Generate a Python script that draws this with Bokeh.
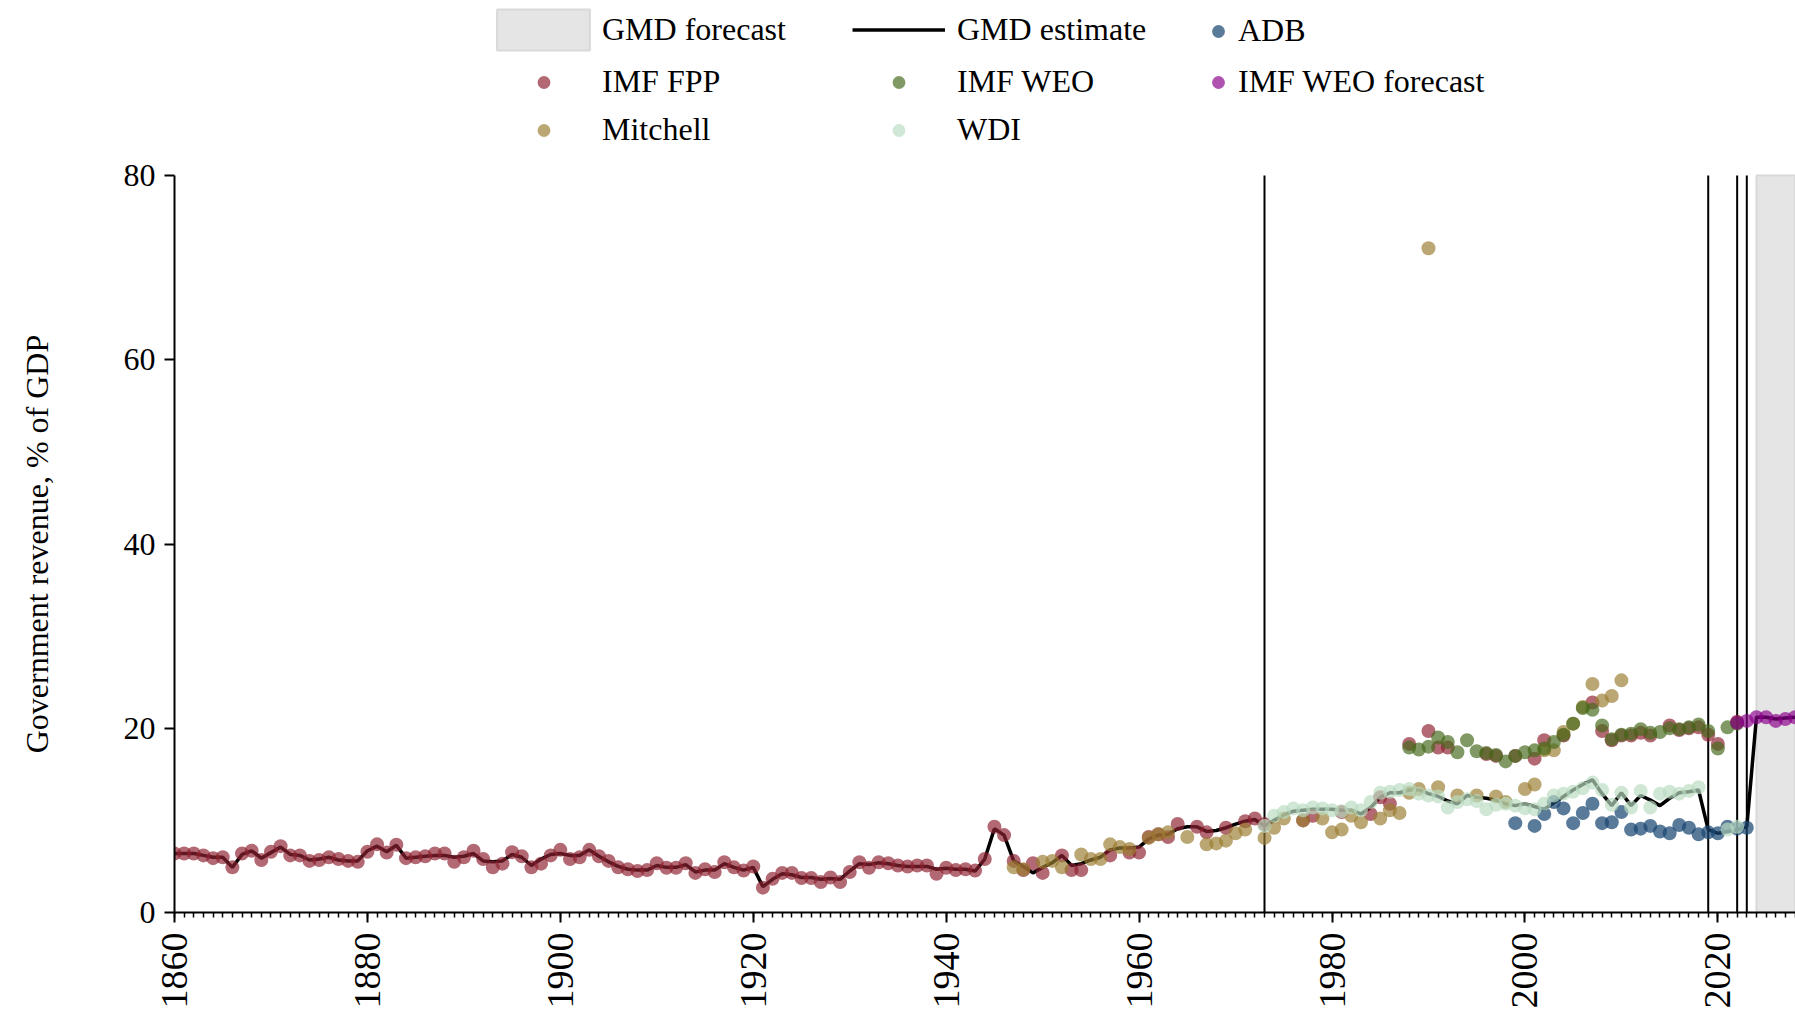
import math
from bokeh.plotting import figure
from bokeh.layouts import row
from bokeh.models import (Range1d, SingleIntervalTicker, FixedTicker,
                          Legend, LegendItem)
from bokeh.core.properties import value
from bokeh.embed import file_html
from bokeh.resources import INLINE

# ---------------- data ----------------
gmd_years = list(range(1860, 2029))
gmd_vals = [
    6.4, 6.4, 6.4, 6.2, 6.0, 6.0, 4.9, 6.3, 6.7, 5.9,
    6.5, 7.1, 6.3, 6.2, 5.7, 5.8, 6.0, 5.7, 5.6, 5.6,
    6.7, 7.2, 6.6, 7.3, 5.9, 6.0, 6.1, 6.2, 6.2, 6.0,
    6.1, 6.4, 5.6, 5.5, 5.6, 6.3, 6.0, 5.1, 5.8, 6.3,
    6.4, 6.2, 6.2, 6.8, 6.1, 5.5, 5.0, 4.7, 4.6, 4.6,
    5.1, 4.9, 4.9, 5.2, 4.4, 4.6, 4.6, 5.3, 4.9, 4.6,
    4.9, 2.8, 3.6, 4.2, 4.1, 3.8, 3.8, 3.6, 3.7, 3.6,
    4.5, 5.3, 5.2, 5.4, 5.3, 5.1, 5.0, 5.0, 5.0, 4.7,
    4.8, 4.7, 4.7, 4.5, 5.8, 9.1, 8.4, 5.6, 5.0, 4.3,
    4.9, 5.4, 6.2, 5.1, 5.3, 5.7, 6.0, 6.8, 7.0, 7.0,
    7.1, 8.0, 8.4, 8.5, 9.1, 9.3, 9.3, 8.8, 8.9, 9.2,
    9.6, 9.9, 10.1, 9.4, 10.0, 10.6, 11.0, 11.1, 11.2, 11.2,
    11.2, 11.1, 11.1, 10.7, 11.4, 12.5, 13.0, 13.0, 13.3, 13.3,
    12.9, 12.6, 12.1, 11.8, 12.7, 12.5, 12.4, 12.2, 11.8, 11.6,
    11.8, 11.5, 11.2, 11.9, 12.6, 13.3, 13.9, 14.4, 12.9, 11.6,
    13.0, 11.6, 12.7, 12.2, 11.6, 12.4, 13.0, 13.1, 13.3, 9.0,
    8.6, 8.8, 9.0, 9.3, 21.2, 21.2, 21.0, 21.1, 21.2,
]

fpp_years = list(range(1860, 1947)) + [
    1947, 1948, 1949, 1950, 1952, 1953, 1954, 1957, 1959, 1960,
    1961, 1962, 1963, 1964, 1966, 1967, 1969, 1971, 1972, 1973,
    1977, 1978, 1981, 1984, 1985, 1986, 1988, 1990, 1991, 1992,
    1996, 1997, 1999, 2001, 2002, 2004, 2007, 2008, 2009, 2010,
    2011, 2012, 2013, 2015, 2016, 2017, 2018, 2019, 2020, 2022,
]
fpp_vals = [
    6.4, 6.4, 6.4, 6.2, 5.9, 6.0, 4.9, 6.4, 6.7, 5.7,
    6.6, 7.2, 6.2, 6.2, 5.6, 5.7, 6.0, 5.8, 5.6, 5.5,
    6.6, 7.4, 6.5, 7.35, 5.9, 6.0, 6.1, 6.4, 6.4, 5.5,
    6.0, 6.7, 5.8, 4.9, 5.3, 6.55, 6.1, 4.9, 5.3, 6.2,
    6.8, 5.8, 6.0, 6.8, 6.1, 5.6, 4.9, 4.7, 4.5, 4.6,
    5.35, 4.85, 4.85, 5.35, 4.3, 4.7, 4.4, 5.45, 4.9, 4.55,
    5.0, 2.7, 3.65, 4.3, 4.3, 3.75, 3.75, 3.3, 3.8, 3.3,
    4.4, 5.45, 4.85, 5.45, 5.35, 5.1, 5.0, 5.1, 5.1, 4.2,
    4.85, 4.6, 4.7, 4.55, 5.8, 9.3, 8.4,
    5.6, 4.6, 5.35, 4.3, 6.2, 4.6, 4.6, 6.2, 6.5, 6.5,
    8.2, 8.5, 8.2, 9.6, 9.3, 8.7, 9.2, 9.9, 10.2, 9.6,
    10.0, 10.5, 10.9, 10.7, 12.5, 11.8, 18.3, 19.7, 17.9, 17.9,
    17.2, 17.0, 17.0, 16.7, 18.7, 19.2, 22.8, 19.7, 18.7, 19.2,
    19.2, 19.5, 19.2, 20.3, 19.8, 20.0, 20.1, 19.3, 18.3, 20.7,
]

mitchell_years = [
    1947, 1948, 1950, 1951, 1952, 1954, 1955, 1956, 1957, 1958,
    1959, 1961, 1962, 1963, 1965, 1967, 1968, 1969, 1970, 1971,
    1973, 1974, 1975, 1977, 1979, 1980, 1981, 1982, 1983, 1985,
    1986, 1987, 1988, 1989, 1990, 1991, 1993, 1995, 1997, 1998,
    2000, 2001, 2002, 2003, 2004, 2005, 2006, 2007, 2008, 2009,
    2010,
]
mitchell_vals = [
    4.9, 4.7, 5.5, 5.6, 4.9, 6.3, 5.8, 5.8, 7.4, 7.1,
    6.9, 8.1, 8.5, 8.7, 8.2, 7.4, 7.5, 7.8, 8.6, 9.0,
    8.1, 9.2, 10.2, 10.0, 10.2, 8.7, 9.0, 10.5, 9.8, 10.2,
    11.1, 10.8, 13.0, 13.4, 72.1, 13.6, 12.7, 12.7, 12.6, 12.0,
    13.4, 13.9, 17.6, 17.6, 19.6, 20.5, 22.3, 24.8, 23.0, 23.5,
    25.2,
]

weo_years = list(range(1988, 2023))
weo_vals = [
    17.9, 17.7, 18.0, 19.0, 18.5, 17.4, 18.7, 17.5, 17.3, 17.1,
    16.4, 17.0, 17.4, 17.6, 17.8, 18.5, 19.3, 20.5, 22.2, 22.0,
    20.3, 18.8, 19.3, 19.4, 19.9, 19.5, 19.6, 20.0, 19.9, 20.1,
    20.4, 19.7, 17.8, 20.1, 20.5,
]

weo_fc_years = [2022, 2023, 2024, 2025, 2026, 2027, 2028]
weo_fc_vals = [20.6, 20.8, 21.2, 21.2, 20.8, 21.0, 21.2]

wdi_years = list(range(1973, 2019)) + [2021, 2022]
wdi_vals = [
    9.4, 10.5, 10.9, 11.3, 11.1, 11.4, 11.3, 11.1, 11.0, 11.4,
    11.1, 12.0, 13.0, 13.1, 13.3, 13.4, 12.9, 12.7, 12.6, 11.4,
    12.0, 12.3, 12.1, 11.2, 11.7, 11.8, 11.6, 11.3, 11.2, 11.8,
    12.7, 12.9, 13.1, 13.5, 14.1, 13.3, 11.7, 13.0, 11.4, 13.2,
    11.4, 12.9, 13.1, 12.9, 13.2, 13.6, 9.0, 9.3,
]

adb_years = [
    1999, 2001, 2002, 2003, 2004, 2005, 2006, 2007, 2008, 2009,
    2010, 2011, 2012, 2013, 2014, 2015, 2016, 2017, 2018, 2019,
    2020, 2021, 2022, 2023,
]
adb_vals = [
    9.7, 9.4, 10.7, 12.0, 11.3, 9.7, 10.8, 11.8, 9.7, 9.8,
    10.9, 9.0, 9.1, 9.4, 8.8, 8.6, 9.5, 9.2, 8.5, 8.7,
    8.6, 9.3, 9.1, 9.2,
]

break_years = [1973, 2019, 2022, 2023]
forecast_start, forecast_end = 2024, 2028
x_ticks_step = 20
y_ticks = [0, 20, 40, 60, 80]
y_label = "Government revenue, % of GDP"

# ---------------- layout constants (pixels) ----------------
FONT = "Liberation Serif"
W, H = 1795, 1012
LABEL_W = 70                        # narrow strip holding the y-axis title
LABEL_X = 36                        # centre of the y-axis title in that strip
AXIS_X, BOTTOM_Y = 174, 912         # y-axis position / x-axis position
Y_TOP_PX = 175                      # pixel row of the y=80 tick
px_per_unit = (BOTTOM_Y - Y_TOP_PX) / y_ticks[-1]
y_max = BOTTOM_Y / px_per_unit      # frame reaches the top of the canvas
px_per_year = 9.646
x_max = 1860 + (W - AXIS_X) / px_per_year

y_range = Range1d(0, y_max)

# ---------------- y-axis title strip ----------------
lab = figure(width=LABEL_W, height=H, x_range=Range1d(0, LABEL_W),
             y_range=y_range, x_axis_type=None, y_axis_type=None,
             output_backend="svg", toolbar_location=None, min_border=0,
             min_border_bottom=H - BOTTOM_Y)
lab.outline_line_color = None
lab.xgrid.visible = False
lab.ygrid.visible = False
lab.text(x=[LABEL_X], y=[(y_ticks[0] + y_ticks[-1]) / 2], text=[y_label],
         angle=math.pi / 2, text_font=value(FONT), text_font_size="32px",
         text_align="center", text_baseline="middle", text_color="black")

# ---------------- main figure ----------------
p = figure(width=W - LABEL_W, height=H,
           x_range=Range1d(1860, x_max), y_range=y_range,
           output_backend="svg", toolbar_location=None,
           min_border_left=AXIS_X - LABEL_W, min_border_top=0,
           min_border_bottom=H - BOTTOM_Y, min_border_right=0)
p.xgrid.visible = False
p.ygrid.visible = False
p.outline_line_color = None
p.background_fill_color = "white"
p.border_fill_color = "white"

xa = p.xaxis[0]
xa.ticker = SingleIntervalTicker(interval=x_ticks_step, num_minor_ticks=20)
xa.major_label_orientation = math.pi / 2
xa.major_label_text_font = FONT
xa.major_label_text_font_size = "38px"
xa.major_label_text_color = "black"
xa.major_label_standoff = 10
xa.major_tick_out = 10
xa.major_tick_in = 0
xa.minor_tick_out = 5
xa.minor_tick_in = 0
xa.axis_line_width = 2
xa.major_tick_line_width = 2
xa.minor_tick_line_width = 1.5
xa.axis_line_color = "black"

ya = p.yaxis[0]
ya.ticker = FixedTicker(ticks=y_ticks)
ya.bounds = (y_ticks[0], y_ticks[-1])
ya.major_label_text_font = FONT
ya.major_label_text_font_size = "32px"
ya.major_label_text_color = "black"
ya.major_label_standoff = 9
ya.major_tick_out = 10
ya.major_tick_in = 0
ya.minor_tick_out = 0
ya.minor_tick_in = 0
ya.axis_line_width = 2
ya.major_tick_line_width = 2
ya.axis_line_color = "black"

# forecast shading
r_fc = p.quad(left=[forecast_start], right=[forecast_end], bottom=[y_ticks[0]],
              top=[y_ticks[-1]], fill_color="#E5E5E5", line_color="#D9D9D9",
              line_width=2)

p.segment(x0=break_years, y0=[y_ticks[0]] * len(break_years),
          x1=break_years, y1=[y_ticks[-1]] * len(break_years),
          line_color="black", line_width=2)

r_gmd = p.line(gmd_years, gmd_vals, line_color="black", line_width=3.5)

SZ = 14
AL = 0.68
r_adb = p.scatter(adb_years, adb_vals, size=SZ, fill_color="#1A4673",
                  fill_alpha=0.72, line_color=None)
r_fpp = p.scatter(fpp_years, fpp_vals, size=SZ, fill_color="#8E2230",
                  fill_alpha=AL, line_color=None)
r_mit = p.scatter(mitchell_years, mitchell_vals, size=SZ, fill_color="#9B7E30",
                  fill_alpha=AL, line_color=None)
r_weo = p.scatter(weo_years, weo_vals, size=SZ, fill_color="#45691A",
                  fill_alpha=AL, line_color=None)
r_wdi = p.scatter(wdi_years, wdi_vals, size=SZ, fill_color="#BADBC1",
                  fill_alpha=AL, line_color=None)
r_wfc = p.scatter(weo_fc_years, weo_fc_vals, size=SZ, fill_color="#8B008B",
                  fill_alpha=AL, line_color=None)


def make_legend(items, loc, gw, gh, standoff, spacing):
    lg = Legend(items=[LegendItem(label=l, renderers=[r]) for l, r in items],
                location=loc, glyph_width=gw, glyph_height=gh,
                label_standoff=standoff, spacing=spacing, padding=0, margin=0,
                label_text_font=FONT, label_text_font_size="32px",
                label_text_color="black", border_line_color=None,
                background_fill_alpha=0)
    p.add_layout(lg)


make_legend([("GMD forecast", r_fc)], (311, 857), 116, 51, 1, 0)
make_legend([("GMD estimate", r_gmd)], (678, 857), 93, 51, 12, 0)
make_legend([("ADB", r_adb), ("IMF WEO forecast", r_wfc)], (1028, 812), 32, 32, 4, 14)
make_legend([("IMF FPP", r_fpp), ("Mitchell", r_mit)], (323, 764), 93, 32, 12, 11)
make_legend([("IMF WEO", r_weo), ("WDI", r_wdi)], (678, 764), 93, 32, 12, 11)

layout = row(lab, p, spacing=0)
open("out.html", "w").write(file_html(layout, INLINE))
